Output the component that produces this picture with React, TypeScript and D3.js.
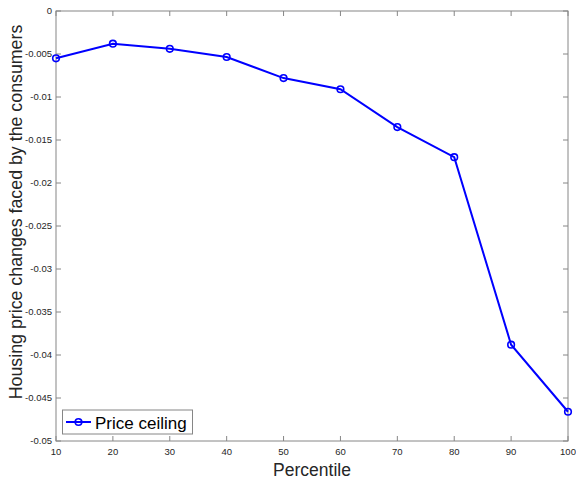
import React from "react";
import * as d3 from "d3";

const percentiles = [10, 20, 30, 40, 50, 60, 70, 80, 90, 100];
const priceChanges = [-0.0055, -0.0038, -0.0044, -0.00535, -0.0078, -0.0091, -0.0135, -0.017, -0.0388, -0.0466];
const xTicks = [10, 20, 30, 40, 50, 60, 70, 80, 90, 100];
const yTicks = [0, -0.005, -0.01, -0.015, -0.02, -0.025, -0.03, -0.035, -0.04, -0.045, -0.05];
const yTickLabels = ["0", "-0.005", "-0.01", "-0.015", "-0.02", "-0.025", "-0.03", "-0.035", "-0.04", "-0.045", "-0.05"];
const seriesName = "Price ceiling";

const W = 576;
const H = 478;
const left = 56;
const right = 568;
const top = 11;
const bottom = 441;
const axisColor = "#868686";
const font = "Helvetica, Arial, 'Liberation Sans', sans-serif";

const App = () => {
  const x = d3.scaleLinear().domain([10, 100]).range([left, right]);
  const y = d3.scaleLinear().domain([-0.05, 0]).range([bottom, top]);

  const line = d3
    .line<number>()
    .x((_, i) => x(percentiles[i]))
    .y((d) => y(d));

  return (
    <svg width={W} height={H} style={{ position: "absolute", left: 0, top: 0, background: "#fff" }}>
      <rect x={0} y={0} width={W} height={H} fill="#fff" />
      {/* axes box */}
      <rect x={left} y={top} width={right - left} height={bottom - top} fill="none" stroke={axisColor} strokeWidth={1} />
      {xTicks.map((t) => (
        <g key={"x" + t}>
          <line x1={x(t)} x2={x(t)} y1={bottom} y2={bottom - 5} stroke={axisColor} />
          <line x1={x(t)} x2={x(t)} y1={top} y2={top + 5} stroke={axisColor} />
          <text x={x(t)} y={bottom + 14} textAnchor="middle" fontSize={9.5} fill="#262626" fontFamily={font}>
            {t}
          </text>
        </g>
      ))}
      {yTicks.map((t, i) => (
        <g key={"y" + t}>
          <line x1={left} x2={left + 5} y1={y(t)} y2={y(t)} stroke={axisColor} />
          <line x1={right} x2={right - 5} y1={y(t)} y2={y(t)} stroke={axisColor} />
          <text x={left - 4} y={y(t) + 3} textAnchor="end" fontSize={9.5} fill="#262626" fontFamily={font}>
            {yTickLabels[i]}
          </text>
        </g>
      ))}
      {/* series */}
      <path d={line(priceChanges) || ""} fill="none" stroke="#0000ff" strokeWidth={2} />
      {priceChanges.map((v, i) => (
        <circle key={"p" + i} cx={x(percentiles[i])} cy={y(v)} r={3.3} fill="none" stroke="#0000ff" strokeWidth={1.6} />
      ))}
      {/* axis labels */}
      <text x={(left + right) / 2} y={475.5} textAnchor="middle" fontSize={17.5} fill="#262626" fontFamily={font}>
        Percentile
      </text>
      <text
        transform={`translate(22, 212) rotate(-90)`}
        textAnchor="middle"
        fontSize={17.8}
        fill="#262626"
        fontFamily={font}
      >
        Housing price changes faced by the consumers
      </text>
      {/* legend */}
      <rect x={62.5} y={410} width={130} height={24} fill="#fff" stroke={axisColor} strokeWidth={1} />
      <line x1={66} x2={91} y1={422} y2={422} stroke="#0000ff" strokeWidth={2} />
      <circle cx={78.5} cy={422} r={3.3} fill="none" stroke="#0000ff" strokeWidth={1.6} />
      <text x={95} y={428.5} fontSize={17} fill="#000" fontFamily={font}>
        {seriesName}
      </text>
    </svg>
  );
};

export default App;
